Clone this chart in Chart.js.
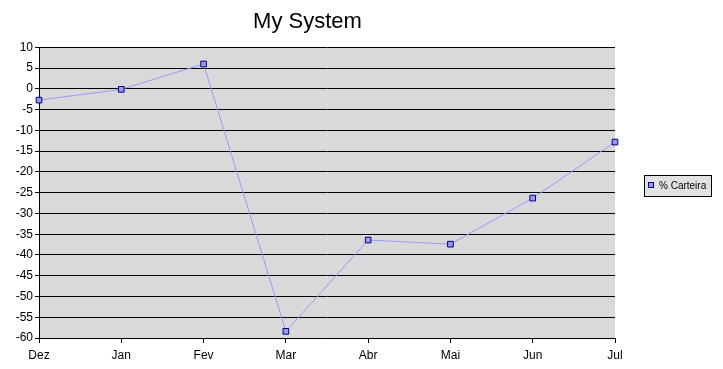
<!DOCTYPE html>
<html>
<head>
<meta charset="utf-8">
<script src="https://cdn.jsdelivr.net/npm/chart.js@4/dist/chart.umd.min.js"></script>
<style>
  html, body { margin: 0; padding: 0; background: #fff; }
  #wrap { width: 723px; height: 369px; }
</style>
</head>
<body>
<div id="wrap"><canvas id="chart" width="723" height="369"></canvas></div>
<script>
const months = [`Dez`, `Jan`, `Fev`, `Mar`, `Abr`, `Mai`, `Jun`, `Jul`];
const carteira = [-2.7, -0.1, 6.0, -58.4, -36.4, -37.4, -26.3, -12.8];
const seriesLabel = `% Carteira`;
const chartTitle = `My System`;

const FONT = `"Liberation Sans", Arial, sans-serif`;

// gray plot background, like the old Excel default
const plotBackground = {
  id: `plotBackground`,
  beforeDraw(chart) {
    const { ctx, chartArea: a } = chart;
    ctx.save();
    ctx.fillStyle = `#d9d9d9`;
    ctx.fillRect(a.left, a.top, a.right - a.left, a.bottom - a.top);
    ctx.restore();
  },
};

// boxed legend on the right side
const boxLegend = {
  id: `boxLegend`,
  afterDraw(chart) {
    const { ctx } = chart;
    const ds = chart.data.datasets[0];
    const x = 644, y = 175, w = 67, h = 21;
    ctx.save();
    ctx.fillStyle = `#e2e2e2`;
    ctx.fillRect(x, y, w, h);
    ctx.strokeStyle = `#000`;
    ctx.lineWidth = 1;
    ctx.strokeRect(x + 0.5, y + 0.5, w, h);
    ctx.fillStyle = ds.pointBackgroundColor;
    ctx.strokeStyle = ds.pointBorderColor;
    ctx.fillRect(x + 4.5, y + 7.5, 5, 5);
    ctx.strokeRect(x + 4.5, y + 7.5, 5, 5);
    ctx.fillStyle = `#000`;
    ctx.font = `10px ${FONT}`;
    ctx.textBaseline = `middle`;
    ctx.fillText(ds.label, x + 15, y + 11);
    ctx.restore();
  },
};

new Chart(document.getElementById(`chart`), {
  type: `line`,
  data: {
    labels: months,
    datasets: [
      {
        label: seriesLabel,
        data: carteira,
        borderColor: `#9999ff`,
        borderWidth: 1,
        pointStyle: `rect`,
        pointRadius: 4,
        pointBackgroundColor: `#9999ee`,
        pointBorderColor: `#000080`,
        pointBorderWidth: 1,
        tension: 0,
      },
    ],
  },
  options: {
    responsive: false,
    animation: false,
    devicePixelRatio: 1,
    layout: { padding: { left: 0, right: 108, top: 0, bottom: 0 } },
    plugins: {
      legend: { display: false },
      tooltip: { enabled: false },
      title: {
        display: true,
        text: chartTitle,
        color: `#000`,
        font: { family: FONT, size: 22, weight: `normal` },
        padding: { top: 9, bottom: 12 },
      },
    },
    scales: {
      x: {
        offset: false,
        grid: {
          drawOnChartArea: false,
          drawTicks: true,
          tickLength: 5,
          color: `#000`,
        },
        border: { color: `#000`, width: 1 },
        ticks: {
          color: `#000`,
          font: { family: FONT, size: 12 },
          padding: 5,
          maxRotation: 0,
          autoSkip: false,
        },
        afterFit(scale) { scale.height = 31; },
      },
      y: {
        min: -60,
        max: 10,
        grid: { color: `#000`, lineWidth: 1, tickLength: 4 },
        border: { color: `#000`, width: 1 },
        ticks: {
          stepSize: 5,
          color: `#000`,
          font: { family: FONT, size: 12 },
          padding: 2,
        },
        afterFit(scale) { scale.width = 39; },
      },
    },
  },
  plugins: [plotBackground, boxLegend],
});
</script>
</body>
</html>
